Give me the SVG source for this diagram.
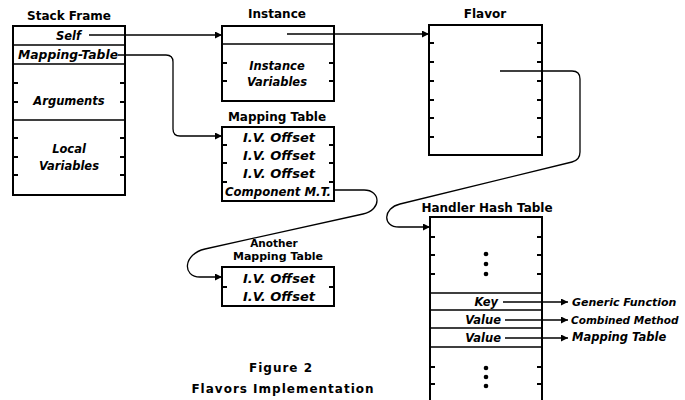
<svg xmlns="http://www.w3.org/2000/svg" width="685" height="400" viewBox="0 0 685 400">
<style>
.box{fill:none;stroke:#000;stroke-width:2}
.sep{fill:none;stroke:#000;stroke-width:1.6}
.tick{fill:none;stroke:#000;stroke-width:2}
.conn{fill:none;stroke:#000;stroke-width:1.3}
.title{font-family:"DejaVu Sans",sans-serif;font-weight:bold;font-size:12px;text-anchor:middle;fill:#000}
.lbl{font-family:"DejaVu Sans",sans-serif;font-weight:bold;font-style:italic;font-size:11.5px;text-anchor:middle;fill:#000}
.lble{font-family:"DejaVu Sans",sans-serif;font-weight:bold;font-style:italic;font-size:11.5px;text-anchor:end;fill:#000}
.lbls{font-family:"DejaVu Sans",sans-serif;font-weight:bold;font-style:italic;font-size:11.5px;text-anchor:start;fill:#000}
.cap{font-family:"DejaVu Sans",sans-serif;font-weight:bold;font-size:12px;text-anchor:middle;letter-spacing:1px;fill:#000}
</style>
<defs>
<marker id="ah" markerUnits="userSpaceOnUse" markerWidth="8" markerHeight="8" refX="7" refY="3.5" orient="auto">
<path d="M0,0 L7,3.5 L0,7 z" fill="#000"/>
</marker>
</defs>

<g id="stack-frame">
<text class="title" x="69" y="20">Stack Frame</text>
<rect class="box" x="13" y="26" width="112" height="169"/>
<path class="sep" d="M13,45 H125 M13,64 H125 M13,120 H125"/>
<path class="tick" d="M13,83 h5 M13,102 h5 M13,138 h5 M13,157 h5 M13,175 h5 M125,83 h-5 M125,102 h-5 M125,138 h-5 M125,157 h-5 M125,175 h-5"/>
<text class="lble" x="81" y="40">Self</text>
<text class="lble" x="118" y="59" textLength="100" lengthAdjust="spacingAndGlyphs">Mapping-Table</text>
<text class="lbl" x="69" y="105">Arguments</text>
<text class="lbl" x="69" y="153">Local</text>
<text class="lbl" x="69" y="170">Variables</text>
</g>

<g id="instance">
<text class="title" x="277" y="18">Instance</text>
<rect class="box" x="222" y="26" width="112" height="75"/>
<path class="sep" d="M222,44 H334"/>
<path class="tick" d="M222,63 h5 M222,81 h5 M334,63 h-5 M334,81 h-5"/>
<text class="lbl" x="277" y="70">Instance</text>
<text class="lbl" x="277" y="86">Variables</text>
</g>

<g id="mapping-table">
<text class="title" x="277" y="121">Mapping Table</text>
<rect class="box" x="222" y="127" width="112" height="74"/>
<path class="tick" d="M222,145 h5 M222,163 h5 M222,182 h5 M334,145 h-5 M334,163 h-5 M334,182 h-5"/>
<text class="lbl" x="279" y="142" textLength="72" lengthAdjust="spacingAndGlyphs">I.V. Offset</text>
<text class="lbl" x="279" y="160" textLength="72" lengthAdjust="spacingAndGlyphs">I.V. Offset</text>
<text class="lbl" x="279" y="178" textLength="72" lengthAdjust="spacingAndGlyphs">I.V. Offset</text>
<text class="lbl" x="278" y="196" textLength="106" lengthAdjust="spacingAndGlyphs">Component M.T.</text>
</g>

<g id="another-mapping-table">
<text class="title" x="274" y="247" style="font-size:10.5px">Another</text>
<text class="title" x="278" y="260" style="font-size:11px">Mapping Table</text>
<rect class="box" x="222" y="267" width="112" height="39"/>
<path class="tick" d="M222,287 h5 M334,287 h-5"/>
<text class="lbl" x="279" y="283" textLength="72" lengthAdjust="spacingAndGlyphs">I.V. Offset</text>
<text class="lbl" x="279" y="301" textLength="72" lengthAdjust="spacingAndGlyphs">I.V. Offset</text>
</g>

<g id="flavor">
<text class="title" x="485" y="18">Flavor</text>
<rect class="box" x="429" y="25" width="113" height="130"/>
<path class="tick" d="M429,43 h5 M429,62 h5 M429,81 h5 M429,100 h5 M429,118 h5 M429,137 h5 M542,43 h-5 M542,62 h-5 M542,81 h-5 M542,100 h-5 M542,118 h-5 M542,137 h-5"/>
</g>

<g id="handler-hash-table">
<text class="title" x="487" y="212">Handler Hash Table</text>
<path class="box" d="M430,401 V217 H542 V401"/>
<path class="sep" d="M430,293 H542 M430,310 H542 M430,328 H542 M430,347 H542"/>
<path class="tick" d="M430,237 h5 M430,255 h5 M430,274 h5 M430,367 h5 M430,384 h5 M542,237 h-5 M542,255 h-5 M542,274 h-5 M542,367 h-5 M542,384 h-5"/>
<circle cx="486" cy="254" r="2.3"/>
<circle cx="486" cy="264" r="2.3"/>
<circle cx="486" cy="274" r="2.3"/>
<circle cx="486" cy="368" r="2.3"/>
<circle cx="486" cy="377" r="2.3"/>
<circle cx="486" cy="386" r="2.3"/>
<text class="lble" x="498" y="306">Key</text>
<text class="lble" x="501" y="324">Value</text>
<text class="lble" x="501" y="342">Value</text>
</g>

<g id="targets">
<text class="lbls" x="572" y="306" style="font-size:11px">Generic Function</text>
<text class="lbls" x="571" y="324" style="font-size:10.5px">Combined Method</text>
<text class="lbls" x="572" y="341">Mapping Table</text>
</g>

<g id="connectors">
<path class="conn" d="M89,35 H222" marker-end="url(#ah)"/>
<path class="conn" d="M118,55 H166 Q173,55 173,62 V129 Q173,136 180,136 H222" marker-end="url(#ah)"/>
<path class="conn" d="M287,34 H429" marker-end="url(#ah)"/>
<path class="conn" d="M334,190 H364 C381,190 382,210 363,214 L205,249 C183,254 182,277 200,277 H222" marker-end="url(#ah)"/>
<path class="conn" d="M500,71 H572 Q580,71 580,79 V152 Q580,160 572,162 L400,204 C383,208 382,227 399,227 H430" marker-end="url(#ah)"/>
<path class="conn" d="M503,302 H568" marker-end="url(#ah)"/>
<path class="conn" d="M505,320 H568" marker-end="url(#ah)"/>
<path class="conn" d="M505,338 H568" marker-end="url(#ah)"/>
</g>

<g id="caption">
<text class="cap" x="281" y="372">Figure 2</text>
<text class="cap" x="283" y="393">Flavors Implementation</text>
</g>
</svg>
